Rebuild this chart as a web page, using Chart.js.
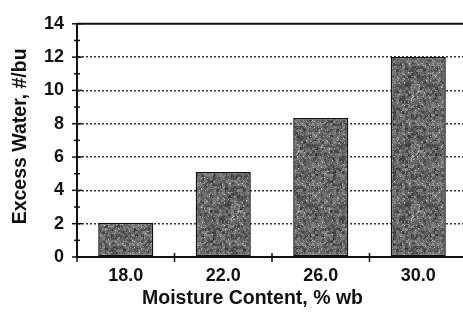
<!DOCTYPE html>
<html>
<head>
<meta charset="utf-8">
<script src="https://cdn.jsdelivr.net/npm/chart.js@4/dist/chart.umd.min.js"></script>
<style>
  html, body { margin: 0; padding: 0; background: #fff; overflow: hidden; }
  #wrap { width: 472px; height: 312px; position: relative; }
</style>
</head>
<body>
<div id="wrap"><canvas id="c"></canvas></div>
<script>
const categories = ["18.0", "22.0", "26.0", "30.0"];
const excessWater = [2.05, 5.1, 8.35, 12.0];
const yTicks = [0, 2, 4, 6, 8, 10, 12, 14];
const xTitle = "Moisture Content, % wb";
const yTitle = "Excess Water, #/bu";

// deterministic speckle texture for bars
function makeTexture() {
  const s = 60;
  const cv = document.createElement('canvas');
  cv.width = s; cv.height = s;
  const g = cv.getContext('2d');
  const img = g.createImageData(s, s);
  function h(x, y, k) {
    let n = (x * 374761393 + y * 668265263 + k * 1442695041) | 0;
    n = Math.imul(n ^ (n >>> 13), 1274126177);
    n = n ^ (n >>> 16);
    return ((n >>> 0) % 1000) / 1000;
  }
  for (let y = 0; y < s; y++) {
    for (let x = 0; x < s; x++) {
      const a = h((x / 3) | 0, (y / 3) | 0, 1);
      const b = h((x / 2) | 0, (y / 2) | 0, 3);
      const c = h(x, y, 2);
      let v = 55 + a * 55 + b * 35 + (c - 0.5) * 30;
      if (c > 0.95) v += 50;
      v = Math.max(25, Math.min(200, v));
      const i = (y * s + x) * 4;
      img.data[i] = img.data[i + 1] = img.data[i + 2] = v;
      img.data[i + 3] = 255;
    }
  }
  g.putImageData(img, 0, 0);
  return g.createPattern(cv, 'repeat');
}

const font = "'Liberation Sans', Arial, sans-serif";

const decor = {
  id: 'decor',
  afterDraw(chart) {
    const ctx = chart.ctx;
    const a = chart.chartArea;
    const ys = chart.scales.y, xs = chart.scales.x;
    const step = xs.getPixelForValue(1) - xs.getPixelForValue(0);
    ctx.save();
    ctx.strokeStyle = '#111';
    // top frame line
    ctx.lineWidth = 2;
    ctx.beginPath();
    ctx.moveTo(a.left, ys.getPixelForValue(14));
    ctx.lineTo(a.right, ys.getPixelForValue(14));
    ctx.stroke();
    // y ticks (major and minor) crossing the axis
    ctx.lineWidth = 1.5;
    for (let v = 0; v <= 14; v++) {
      const y = ys.getPixelForValue(v);
      const len = (v % 2 === 0) ? 5 : 3;
      ctx.beginPath();
      ctx.moveTo(a.left - len, y);
      ctx.lineTo(a.left + len, y);
      ctx.stroke();
    }
    // x ticks at category boundaries crossing axis
    for (let i = 0; i <= categories.length; i++) {
      const x = xs.getPixelForValue(0) - step / 2 + i * step;
      ctx.beginPath();
      ctx.moveTo(x, a.bottom - 4);
      ctx.lineTo(x, a.bottom + 5);
      ctx.stroke();
    }
    // titles
    ctx.fillStyle = '#111';
    ctx.font = "bold 19.5px " + font;
    ctx.textAlign = 'center';
    ctx.textBaseline = 'middle';
    ctx.fillText(xTitle, a.left + (a.right - a.left) * 0.45, 299);
    ctx.translate(21, (a.top + a.bottom) / 2 - 4);
    ctx.rotate(-Math.PI / 2);
    ctx.fillText(yTitle, 0, 0);
    ctx.restore();
  }
};

new Chart(document.getElementById('c'), {
  type: 'bar',
  data: {
    labels: categories,
    datasets: [{
      data: excessWater,
      backgroundColor: makeTexture(),
      borderColor: '#111',
      borderWidth: 1.5,
      borderSkipped: false,
      categoryPercentage: 1.0,
      barPercentage: 0.565
    }]
  },
  options: {
    responsive: true,
    maintainAspectRatio: false,
    animation: false,
    layout: { padding: { top: 20, right: 5, left: 0, bottom: 0 } },
    plugins: { legend: { display: false }, tooltip: { enabled: false } },
    scales: {
      x: {
        grid: { display: false, drawTicks: false },
        border: { display: true, color: '#111', width: 2 },
        ticks: { color: '#111', font: { family: font, size: 18, weight: 'bold' }, padding: 8, maxRotation: 0 },
        afterFit(s) { s.height = 55; }
      },
      y: {
        min: 0, max: 14,
        afterBuildTicks(s) { s.ticks = yTicks.map(v => ({ value: v })); },
        grid: {
          drawTicks: false,
          color: c => (c.tick && (c.tick.value === 0 || c.tick.value === 14)) ? 'rgba(0,0,0,0)' : '#333',
          lineWidth: 1.5
        },
        border: { display: true, color: '#111', width: 2, dash: [2, 2] },
        ticks: { color: '#111', font: { family: font, size: 18, weight: 'bold' }, padding: 13 },
        afterFit(s) { s.width = 77; }
      }
    }
  },
  plugins: [decor]
});
</script>
</body>
</html>
